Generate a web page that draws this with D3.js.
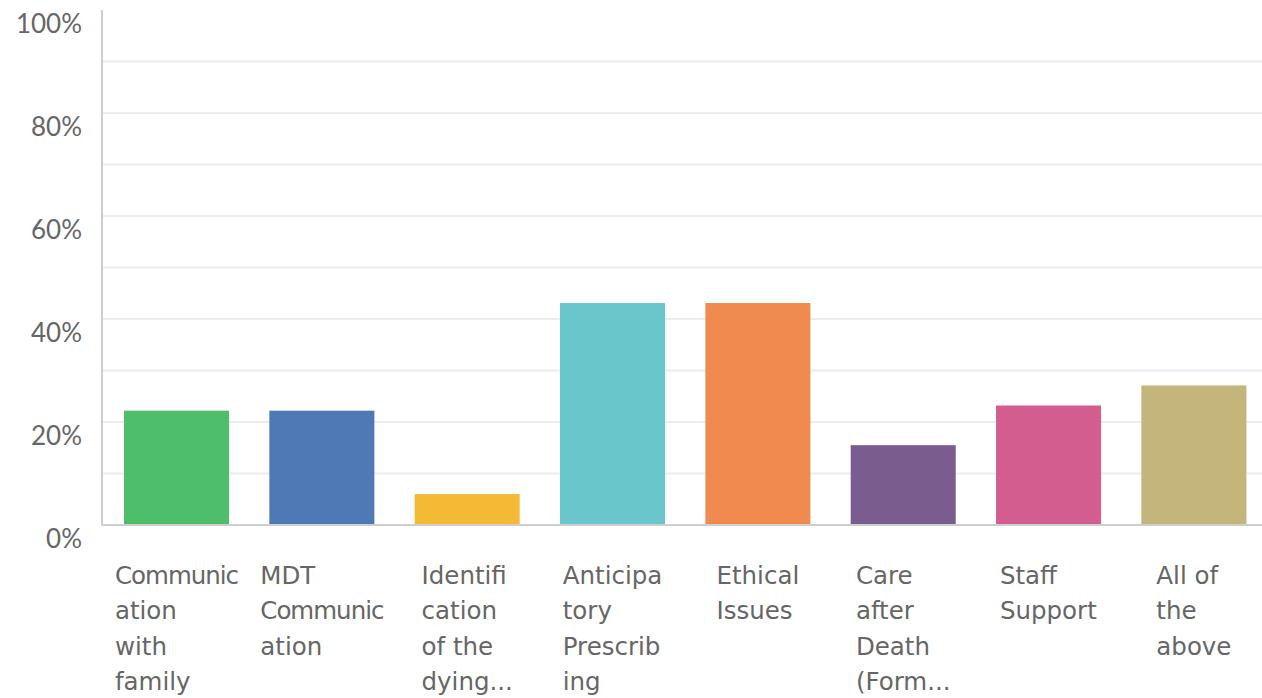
<!DOCTYPE html>
<html>
<head>
<meta charset="utf-8">
<script src="https://cdn.jsdelivr.net/npm/d3@7"></script>
<style>
  html, body { margin: 0; padding: 0; background: #fff; }
  svg { display: block; }
  text { fill: #666; }
</style>
</head>
<body>
<svg id="chart" width="1262" height="698"></svg>
<script>
// Data
const categories = [
  "Communication with family",
  "MDT Communication",
  "Identification of the dying...",
  "Anticipatory Prescribing",
  "Ethical Issues",
  "Care after Death (Form...",
  "Staff Support",
  "All of the above"
];
// Wrapped label lines as shown in the chart
const categoryLines = [
  ["Communic", "ation", "with", "family"],
  ["MDT", "Communic", "ation"],
  ["Identifi", "cation", "of the", "dying..."],
  ["Anticipa", "tory", "Prescrib", "ing"],
  ["Ethical", "Issues"],
  ["Care", "after", "Death", "(Form..."],
  ["Staff", "Support"],
  ["All of", "the", "above"]
];
const values = [22.2, 22.2, 6.0, 43.1, 43.1, 15.5, 23.2, 27.1];
const colors = ["#4ebe6b", "#4e79b4", "#f5ba35", "#69c6ca", "#f18a4e", "#7a5c8e", "#d25d8e", "#c4b67a"];
const yTicks = [0, 20, 40, 60, 80, 100];
const gridTicks = [10, 20, 30, 40, 50, 60, 70, 80, 90];

const svg = d3.select("#chart");

const step = 145.3;
const x = d3.scaleBand()
  .domain(categories)
  .range([104, 104 + step * 8])
  .paddingInner(40.3 / step)
  .paddingOuter(20 / step);

const y = d3.scaleLinear().domain([0, 100]).range([525, 10]);

// gridlines
svg.append("g").selectAll("line")
  .data(gridTicks)
  .join("line")
  .attr("x1", 103).attr("x2", 1262)
  .attr("y1", d => y(d)).attr("y2", d => y(d))
  .attr("stroke", "#ececec").attr("stroke-width", 2);

// bars
svg.append("g").selectAll("rect")
  .data(values)
  .join("rect")
  .attr("x", (d, i) => x(categories[i]))
  .attr("width", x.bandwidth())
  .attr("y", d => y(d))
  .attr("height", d => y(0) - y(d))
  .attr("fill", (d, i) => colors[i]);

// axes lines
svg.append("line")
  .attr("x1", 102).attr("x2", 102)
  .attr("y1", y(100)).attr("y2", y(0) + 1)
  .attr("stroke", "#cfcfcf").attr("stroke-width", 2);
svg.append("line")
  .attr("x1", 101).attr("x2", 1262)
  .attr("y1", y(0)).attr("y2", y(0))
  .attr("stroke", "#cfcfcf").attr("stroke-width", 2);

// y tick labels
svg.append("g").selectAll("text")
  .data(yTicks)
  .join("text")
  .attr("x", 82)
  .attr("y", d => y(d) + 14)
  .attr("dy", "0.35em")
  .attr("text-anchor", "end")
  .attr("font-family", "Lato, sans-serif")
  .attr("font-size", 26)
  .text(d => d + "%");

// category labels: block centred under the bar, lines left-aligned
const lab = svg.append("g").selectAll("g")
  .data(categories)
  .join("g");
lab.each(function(d, i) {
  const g = d3.select(this);
  const texts = g.selectAll("text")
    .data(categoryLines[i])
    .join("text")
    .attr("x", 0)
    .attr("y", (t, j) => 575 + j * 35.5)
    .attr("dy", "0.35em")
    .attr("font-family", "'DejaVu Sans', sans-serif")
    .attr("font-size", 24.5)
    .attr("letter-spacing", t => t.includes("mm") ? -1 : 0)
    .text(t => t);
  let maxW = 0;
  texts.each(function() { maxW = Math.max(maxW, this.getBBox().width); });
  const cx = x(d) + x.bandwidth() / 2;
  g.attr("transform", `translate(${cx - maxW / 2},0)`);
});
</script>
</body>
</html>
